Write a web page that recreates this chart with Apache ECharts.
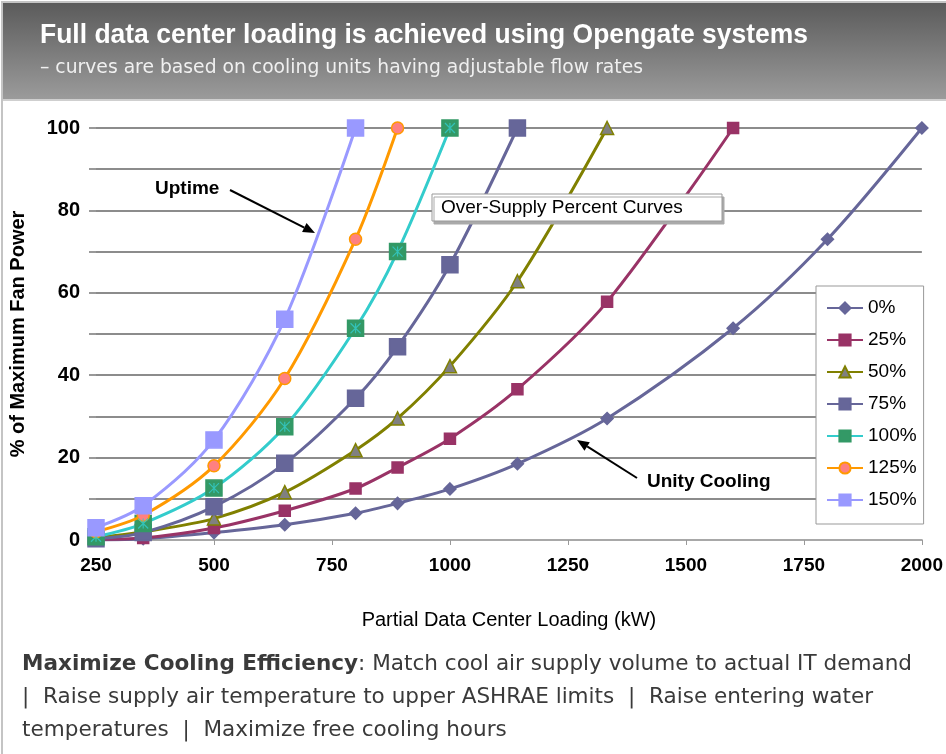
<!DOCTYPE html>
<html>
<head>
<meta charset="utf-8">
<script src="https://cdn.jsdelivr.net/npm/echarts@6/dist/echarts.min.js"></script>
<style>
html, body { margin: 0; padding: 0; background: #fff; }
#chart { width: 946px; height: 754px; }
</style>
</head>
<body>
<div id="chart"></div>
<script>
// partial load in kW (x values of the points)
var loads = [250, 350, 500, 650, 800, 889, 1000, 1143, 1333, 1600, 1800, 2000];
var names = ['0%', '25%', '50%', '75%', '100%', '125%', '150%'];
// % of max fan power per over-supply curve
var fan0   = [0, 0.3, 1.8, 3.7, 6.5, 8.9, 12.4, 18.5, 29.5, 51.4, 73, 100];
var fan25  = [0.2, 0.5, 2.9, 7.1, 12.5, 17.6, 24.6, 36.6, 57.8, 100];
var fan50  = [0.5, 2, 5.2, 11.6, 21.8, 29.5, 42.2, 62.8, 100];
var fan75  = [0.3, 1.8, 8.1, 18.6, 34.4, 46.9, 66.8, 100];
var fan100 = [0.8, 4, 12.6, 27.5, 51.4, 70, 100];
var fan125 = [2, 6, 18, 39.2, 73, 100];
var fan150 = [3, 8.3, 24.3, 53.6, 100];
var fanData = [fan0, fan25, fan50, fan75, fan100, fan125, fan150];

// look of each curve
var looks = [
    {line: '#666699', fill: '#666699', border: '#666699', symbol: 'diamond', size: 12},
    {line: '#993366', fill: '#993366', border: '#993366', symbol: 'rect', size: 11},
    {line: '#808000', fill: '#808080', border: '#808000', symbol: 'triangle', size: 13},
    {line: '#666699', fill: '#666699', border: '#666699', symbol: 'rect', size: 16},
    {line: '#33CCCC', fill: '#339966', border: '#339966', symbol: 'rect', size: 16},
    {line: '#FF9900', fill: '#FF8080', border: '#FF9900', symbol: 'circle', size: 12},
    {line: '#9999FF', fill: '#9999FF', border: '#9999FF', symbol: 'rect', size: 16}
];

var measureCtx = document.createElement('canvas').getContext('2d');
function textWidth(txt, font) {
    measureCtx.font = font;
    return measureCtx.measureText(txt).width;
}

function arrow(x1, y1, x2, y2) {
    var dx = x2 - x1, dy = y2 - y1;
    var l = Math.sqrt(dx * dx + dy * dy);
    var ux = dx / l, uy = dy / l, L = 12, W = 5;
    var bx = x2 - ux * L, by = y2 - uy * L;
    return [
        {type: 'line', z: 50, shape: {x1: x1, y1: y1, x2: bx, y2: by}, style: {stroke: '#000', lineWidth: 2}},
        {type: 'polygon', z: 50, shape: {points: [[x2, y2], [bx - uy * W, by + ux * W], [bx + uy * W, by - ux * W]]}, style: {fill: '#000'}}
    ];
}

var series = [];
for (var i = 0; i < names.length; i++) {
    var pts = fanData[i].map(function (v, k) { return [loads[k], v]; });
    var lk = looks[i];
    series.push({
        name: names[i],
        type: 'line',
        data: pts,
        smooth: 0.3,
        symbol: lk.symbol,
        symbolSize: lk.size,
        showSymbol: true,
        lineStyle: {color: lk.line, width: 3},
        itemStyle: {color: lk.fill, borderColor: lk.border, borderWidth: 1.5},
        emphasis: {disabled: true},
        z: 2 + i
    });
}
// cyan asterisk drawn over the 100% markers
series.push({
    name: '100% star',
    type: 'scatter',
    data: fan100.map(function (v, k) { return [loads[k], v]; }),
    symbol: 'path://M0,0L10,10M10,0L0,10M5,0L5,10',
    symbolSize: 10,
    itemStyle: {color: 'none', borderColor: '#33CCCC', borderWidth: 1.2},
    emphasis: {disabled: true},
    silent: true,
    z: 7
});

// header / footer text, squeezed to the slide's narrow face
var titleText = 'Full data center loading is achieved using Opengate systems';
var titleFont = 'bold 28px "Liberation Sans"';
var titleScale = 768 / textWidth(titleText, titleFont);
var subText = '\u2013 curves are based on cooling units having adjustable flow rates';
var subFont = '19px "DejaVu Sans"';
var subScale = 603 / textWidth(subText, subFont);

var footBold = 'Maximize Cooling Efficiency';
var foot1 = ': Match cool air supply volume to actual IT demand';
var foot2 = '|  Raise supply air temperature to upper ASHRAE limits  |  Raise entering water';
var foot3 = 'temperatures  |  Maximize free cooling hours';
var footFont = '22px "DejaVu Sans"';
var footScale = 890 / (textWidth(footBold, 'bold ' + footFont) + textWidth(foot1, footFont));

var graphic = [
    {type: 'rect', z: 0, shape: {x: 2, y: 2, width: 950, height: 760}, style: {fill: 'none', stroke: '#c4c4c4', lineWidth: 2}},
    {type: 'rect', z: 1, shape: {x: 3, y: 3, width: 945, height: 96},
        style: {fill: new echarts.graphic.LinearGradient(0, 0, 0, 1, [{offset: 0, color: '#5b5b5b'}, {offset: 1, color: '#9b9b9b'}])}},
    {type: 'line', z: 1, shape: {x1: 3, y1: 100, x2: 946, y2: 100}, style: {stroke: '#cfcfcf', lineWidth: 2}},
    {type: 'text', z: 5, x: 40, y: 35, scaleX: titleScale,
        style: {text: titleText, font: titleFont, fill: '#ffffff', verticalAlign: 'middle'}},
    {type: 'text', z: 5, x: 40, y: 68, scaleX: subScale,
        style: {text: subText, font: subFont, fill: '#f0f0f0', verticalAlign: 'middle'}},
    {type: 'text', z: 5, x: 22, y: 664, scaleX: footScale,
        style: {text: '{b|' + footBold + '}' + foot1, font: footFont, fill: '#3a3a3a', verticalAlign: 'middle',
            rich: {b: {fontWeight: 'bold', fontFamily: 'DejaVu Sans', fontSize: 22, fill: '#3a3a3a'}}}},
    {type: 'text', z: 5, x: 22, y: 697, scaleX: footScale,
        style: {text: foot2, font: footFont, fill: '#3a3a3a', verticalAlign: 'middle'}},
    {type: 'text', z: 5, x: 22, y: 730, scaleX: footScale,
        style: {text: foot3, font: footFont, fill: '#3a3a3a', verticalAlign: 'middle'}},
    // annotations
    {type: 'text', z: 50, x: 155, y: 189,
        style: {text: 'Uptime', font: 'bold 19px "Liberation Sans"', fill: '#000', verticalAlign: 'middle'}},
    {type: 'text', z: 50, x: 647, y: 482,
        style: {text: 'Unity Cooling', font: 'bold 19px "Liberation Sans"', fill: '#000', verticalAlign: 'middle'}},
    {type: 'rect', z: 40, shape: {x: 432, y: 194, width: 290, height: 27},
        style: {fill: '#fff', stroke: '#999', lineWidth: 1, shadowColor: '#aaa', shadowOffsetX: 2, shadowOffsetY: 3}},
    {type: 'text', z: 41, x: 441, y: 208,
        style: {text: 'Over-Supply Percent Curves', font: '19px "Liberation Sans"', fill: '#000', verticalAlign: 'middle'}}
].concat(arrow(230, 190, 315, 233)).concat(arrow(637, 478, 577, 440));

var option = {
    animation: false,
    backgroundColor: '#fff',
    grid: {left: 95, right: 24, top: 128, bottom: 214, containLabel: false},
    legend: {
        orient: 'vertical',
        left: 816,
        top: 286,
        padding: [12, 7, 14, 10],
        itemWidth: 36,
        itemHeight: 14,
        itemGap: 12,
        backgroundColor: '#fff',
        borderColor: '#999',
        borderWidth: 1,
        z: 30,
        textStyle: {fontFamily: 'Liberation Sans', fontSize: 19, color: '#000', lineHeight: 20},
        data: names
    },
    xAxis: {
        type: 'value',
        min: 250,
        max: 2000,
        interval: 250,
        name: 'Partial Data Center Loading (kW)',
        nameLocation: 'middle',
        nameGap: 70,
        nameTextStyle: {fontFamily: 'Liberation Sans', fontSize: 20, color: '#000'},
        axisLine: {lineStyle: {color: '#a8a8a8', width: 2}},
        axisTick: {show: true, length: 5, lineStyle: {color: '#999'}},
        axisLabel: {fontFamily: 'Liberation Sans', fontSize: 19, fontWeight: 'bold', color: '#000', margin: 16,
            showMinLabel: true, showMaxLabel: true,
            formatter: function (v) { return String(v); }},
        splitLine: {show: false}
    },
    yAxis: {
        type: 'value',
        min: 0,
        max: 100,
        interval: 10,
        name: '% of Maximum Fan Power',
        nameLocation: 'middle',
        nameRotate: 90,
        nameGap: 68,
        nameTextStyle: {fontFamily: 'Liberation Sans', fontSize: 20, fontWeight: 'bold', color: '#000'},
        axisLine: {show: false},
        axisTick: {show: true, length: 7, lineStyle: {color: '#999', width: 2}},
        axisLabel: {fontFamily: 'Liberation Sans', fontSize: 20, fontWeight: 'bold', color: '#000', margin: 16,
            formatter: function (v) { return v % 20 === 0 ? String(v) : ''; }},
        splitLine: {show: true, lineStyle: {color: '#8c8c8c', width: 2}}
    },
    graphic: graphic,
    series: series
};

var chart = echarts.init(document.getElementById('chart'));
chart.setOption(option);
</script>
</body>
</html>
